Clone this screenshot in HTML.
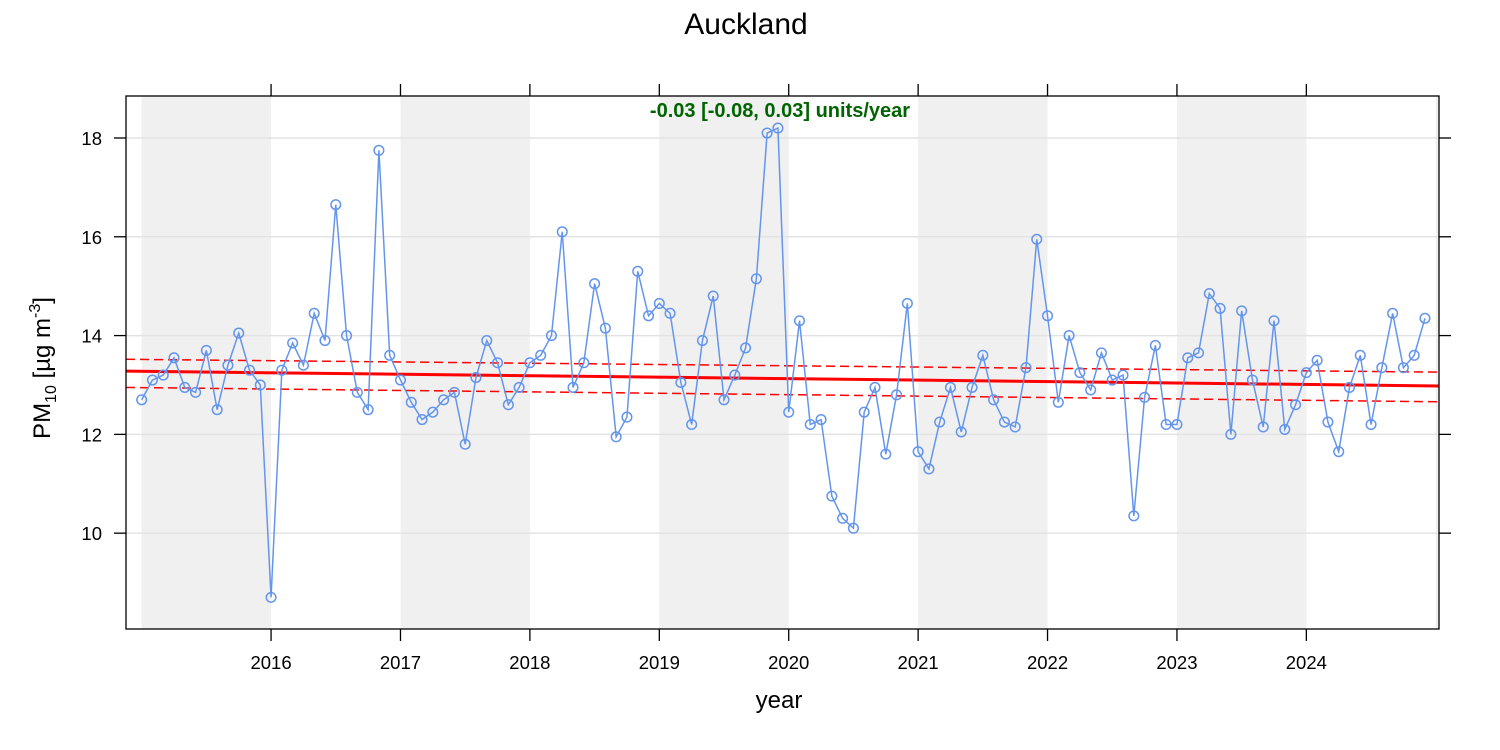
<!DOCTYPE html>
<html><head><meta charset="utf-8"><style>
html,body{margin:0;padding:0;background:#fff;}
svg{display:block;font-family:"Liberation Sans",Arial,sans-serif;}
</style></head><body>
<svg id="chart" width="1500" height="750" viewBox="0 0 1500 750">
<g id="bands"></g>
<g id="grid"></g>
<g id="trend"></g>
<g id="series"></g>
<g id="axes"></g>
<text x="746" y="34" font-size="30" text-anchor="middle">Auckland</text>
<text x="780" y="117" font-size="20" font-weight="bold" fill="#006400" text-anchor="middle">-0.03 [-0.08, 0.03] units/year</text>
<text x="779" y="708" font-size="24" text-anchor="middle">year</text>
<text transform="translate(50,368) rotate(-90)" font-size="24" text-anchor="middle">PM<tspan font-size="16" dy="6">10</tspan><tspan dy="-6"> [µg m</tspan><tspan font-size="16" dy="-10">-3</tspan><tspan dy="10">]</tspan></text>
</svg>
<script>
const startYear = 2015;
const values = [
12.7,13.1,13.2,13.55,12.95,12.85,13.7,12.5,13.4,14.05,13.3,13.0,
8.7,13.3,13.85,13.4,14.45,13.9,16.65,14.0,12.85,12.5,17.75,13.6,
13.1,12.65,12.3,12.45,12.7,12.85,11.8,13.15,13.9,13.45,12.6,12.95,
13.45,13.6,14.0,16.1,12.95,13.45,15.05,14.15,11.95,12.35,15.3,14.4,
14.65,14.45,13.05,12.2,13.9,14.8,12.7,13.2,13.75,15.15,18.1,18.2,
12.45,14.3,12.2,12.3,10.75,10.3,10.1,12.45,12.95,11.6,12.8,14.65,
11.65,11.3,12.25,12.95,12.05,12.95,13.6,12.7,12.25,12.15,13.35,15.95,
14.4,12.65,14.0,13.25,12.9,13.65,13.1,13.2,10.35,12.75,13.8,12.2,
12.2,13.55,13.65,14.85,14.55,12.0,14.5,13.1,12.15,14.3,12.1,12.6,
13.25,13.5,12.25,11.65,12.95,13.6,12.2,13.35,14.45,13.35,13.6,14.35];
const yTicks = [10,12,14,16,18];
const xTicks = [2016,2017,2018,2019,2020,2021,2022,2023,2024];
const trendEnds = [13.28, 12.98];
const upperEnds = [13.52, 13.26];
const lowerEnds = [12.95, 12.66];

const L=126,R=1439,T=96,B=629;
const x0=2014.879, x1=2025.025, y0=8.06, y1=18.85;
const X=v=>L+(v-x0)/(x1-x0)*(R-L);
const Y=v=>B-(v-y0)/(y1-y0)*(B-T);
const NS='http://www.w3.org/2000/svg';
function mk(tag,parent,attrs){const e=document.createElementNS(NS,tag);for(const k in attrs)e.setAttribute(k,attrs[k]);parent.appendChild(e);return e;}
const bands=document.getElementById('bands'),grid=document.getElementById('grid'),trend=document.getElementById('trend'),series=document.getElementById('series'),axes=document.getElementById('axes');
for(let yr=2015;yr<=2025;yr+=2){
  const a=Math.max(L,X(yr)),b=Math.min(R,X(yr+1));
  const r=mk('rect',bands,{x:a,y:T,width:b-a,height:B-T,fill:'#f0f0f0'});
  
  
}
yTicks.forEach(t=>{
  const l=mk('line',grid,{x1:L,x2:R,y1:Y(t),y2:Y(t),stroke:'#e3e3e3','stroke-width':1.5});
  
  
});
function tl(ends,w,dash,name){
  const l=mk('line',trend,{x1:L,x2:R,y1:Y(ends[0]),y2:Y(ends[1]),stroke:'#ff0000','stroke-width':w});
  if(dash)l.setAttribute('stroke-dasharray',dash);
  
  
}
tl(upperEnds,1.5,'9 5','trend-upper-ci');
tl(lowerEnds,1.5,'9 5','trend-lower-ci');
tl(trendEnds,3,null,'trend-line');
const pts=values.map((v,i)=>[X(startYear+i/12),Y(v)]);
const pl=mk('polyline',series,{points:pts.map(p=>p.join(',')).join(' '),fill:'none',stroke:'#6495ed','stroke-width':1.5});


pts.forEach((p,i)=>{
  const c=mk('circle',series,{cx:p[0],cy:p[1],r:4.8,fill:'none',stroke:'#6495ed','stroke-width':1.5});
  
  
});
const fr=mk('rect',axes,{x:L,y:T,width:R-L,height:B-T,fill:'none',stroke:'#000','stroke-width':1.3});


yTicks.forEach(t=>{
  mk('line',axes,{x1:L-12,x2:L,y1:Y(t),y2:Y(t),stroke:'#000','stroke-width':1.3});
  mk('line',axes,{x1:R,x2:R+12,y1:Y(t),y2:Y(t),stroke:'#000','stroke-width':1.3});
  const tx=mk('text',axes,{x:L-24,y:Y(t)+7,'font-size':18.5,'text-anchor':'end'});
  tx.textContent=t;
  
  
});
xTicks.forEach(t=>{
  mk('line',axes,{x1:X(t),x2:X(t),y1:B,y2:B+12,stroke:'#000','stroke-width':1.3});
  mk('line',axes,{x1:X(t),x2:X(t),y1:T-12,y2:T,stroke:'#000','stroke-width':1.3});
  const tx=mk('text',axes,{x:X(t),y:B+40,'font-size':18.5,'text-anchor':'middle'});
  tx.textContent=t;
  
  
});
</script>
</body></html>
